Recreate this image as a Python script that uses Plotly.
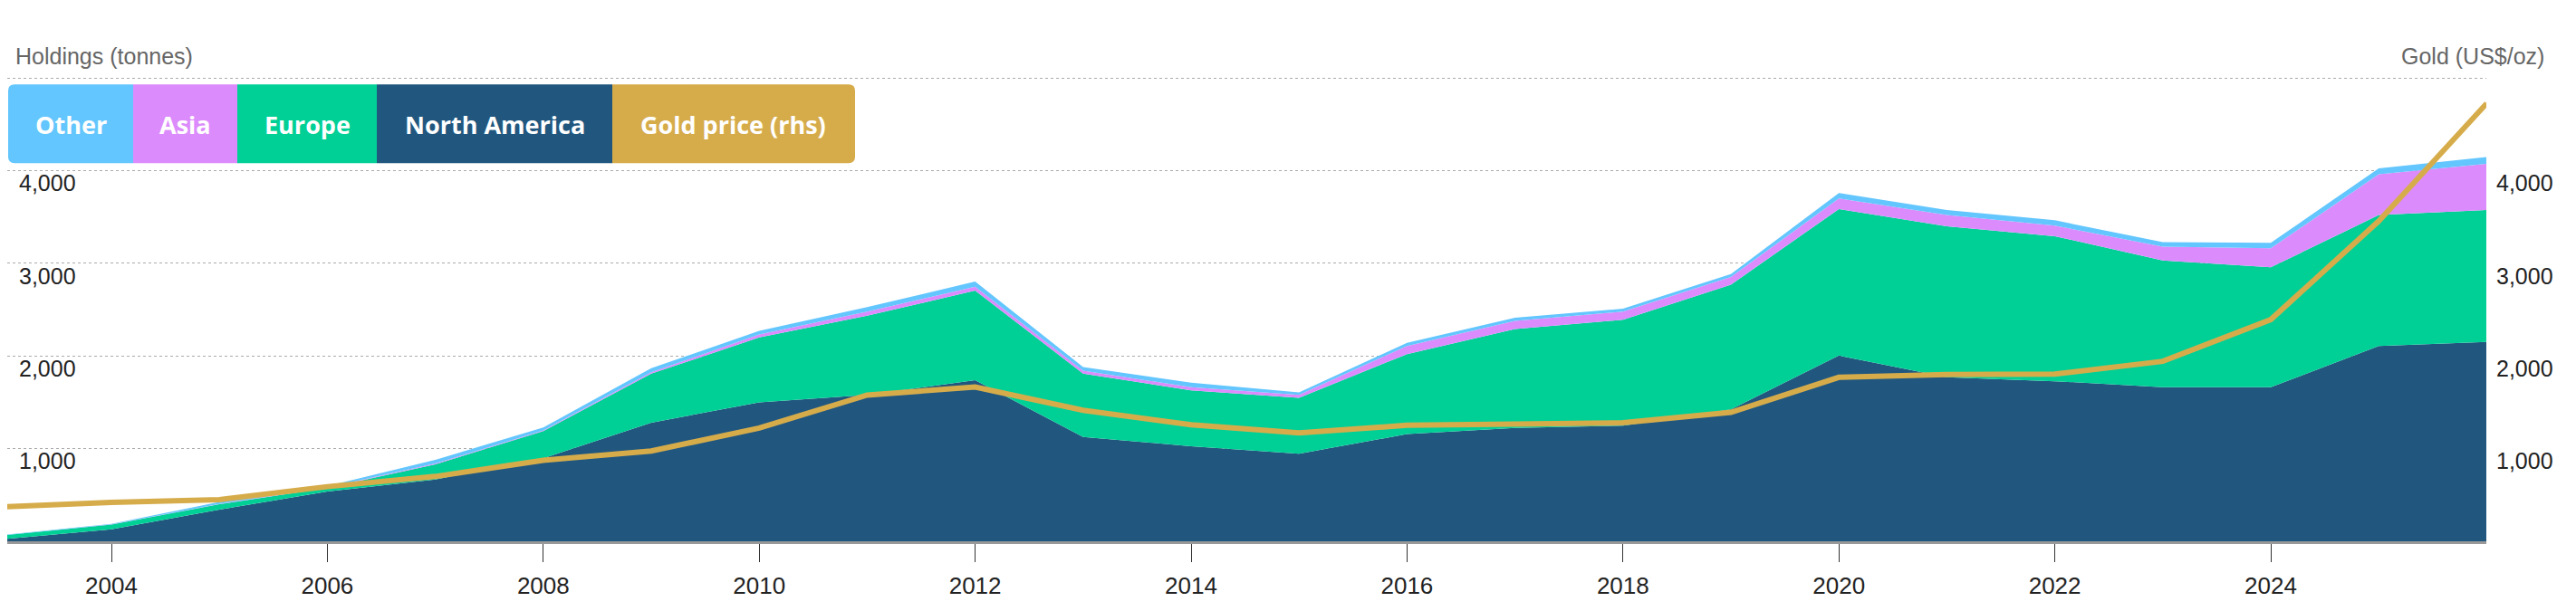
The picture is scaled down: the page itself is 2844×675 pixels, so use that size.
import plotly.graph_objects as go

# ---- data ----
years = [2003, 2004, 2005, 2006, 2007, 2008, 2009, 2010, 2011, 2012, 2013, 2014,
         2015, 2016, 2017, 2018, 2019, 2020, 2021, 2022, 2023, 2024, 2025, 2026]
north_america = [23, 130, 342, 538, 668, 897, 1281, 1500, 1581, 1738, 1125, 1027,
                 945, 1157, 1223, 1249, 1425, 2005, 1770, 1728, 1663, 1663, 2109, 2152]
europe = [42, 50, 58, 39, 163, 293, 528, 700, 854, 968, 684, 603,
          604, 864, 1069, 1141, 1346, 1581, 1630, 1565, 1369, 1294, 1412, 1424]
asia = [0, 2, 4, 5, 8, 8, 15, 33, 43, 42, 33, 33,
        32, 88, 88, 88, 82, 114, 121, 114, 147, 205, 440, 499]
other = [3, 5, 20, 15, 40, 31, 44, 39, 49, 56, 39, 49,
         26, 33, 32, 32, 32, 59, 55, 58, 49, 59, 65, 72]
gold_price = [372, 420, 450, 590, 700, 875, 975, 1222, 1578, 1665, 1415, 1258,
              1170, 1252, 1265, 1280, 1392, 1770, 1800, 1805, 1943, 2393, 3456, 4727]

x_tickvals = [2004, 2006, 2008, 2010, 2012, 2014, 2016, 2018, 2020, 2022, 2024]
x_ticktext = ["2004", "2006", "2008", "2010", "2012", "2014", "2016", "2018", "2020", "2022", "2024"]
y_tickvals = [0, 1000, 2000, 3000, 4000, 5000]
y_ticktext = ["", "1,000", "2,000", "3,000", "4,000", ""]

legend_names = ["Other", "Asia", "Europe", "North America", "Gold price (rhs)"]

C_NA = "#21577F"
C_EU = "#00D096"
C_ASIA = "#DC8BFC"
C_OTHER = "#63C6FE"
C_GOLD = "#D6AC4B"
legend_colors = [C_OTHER, C_ASIA, C_EU, C_NA, C_GOLD]

FONT = "Liberation Sans, Arial, sans-serif"

fig = go.Figure()
for name, vals, col in [("North America", north_america, C_NA),
                        ("Europe", europe, C_EU),
                        ("Asia", asia, C_ASIA),
                        ("Other", other, C_OTHER)]:
    fig.add_trace(go.Scatter(x=years, y=vals, name=name, stackgroup="holdings",
                             mode="lines", line=dict(width=0, color=col),
                             fillcolor=col, showlegend=False, hoverinfo="x+y+name"))

fig.add_trace(go.Scatter(x=years, y=gold_price, name="Gold price (rhs)", yaxis="y2",
                         mode="lines", line=dict(width=6, color=C_GOLD),
                         showlegend=False))

# ---- layout geometry (figure pixels; page has an 8px body margin) ----
OFF = 8
Y_TOP = 5012          # a little head-room so the 5,000 gridline is drawn
W, H = 2844 - OFF, 675 - OFF
L = 0
R = W - (2745 - OFF)
B = H - (598 - OFF)
px_per_unit = (598 - 86) / 5000.0
T = (86 - (Y_TOP - 5000) * px_per_unit) - OFF
pw, ph = W - L - R, H - T - B


def px_x(x):  # page pixel -> paper
    return (x - OFF - L) / pw


def px_y(y):
    return (H - B - (y - OFF)) / ph


# custom legend boxes (page pixel positions)
seg_edges = [9, 147, 262, 416, 676, 944]
top_px, bot_px = 93, 180
shapes = []
annotations = []
rad = 7
for i, (nm, col) in enumerate(zip(legend_names, legend_colors)):
    x0, x1 = seg_edges[i], seg_edges[i + 1]
    if i == 0:
        p = (f"M {px_x(x1)},{px_y(top_px)} L {px_x(x0 + rad)},{px_y(top_px)} "
             f"Q {px_x(x0)},{px_y(top_px)} {px_x(x0)},{px_y(top_px + rad)} "
             f"L {px_x(x0)},{px_y(bot_px - rad)} "
             f"Q {px_x(x0)},{px_y(bot_px)} {px_x(x0 + rad)},{px_y(bot_px)} "
             f"L {px_x(x1)},{px_y(bot_px)} Z")
        shapes.append(dict(type="path", xref="paper", yref="paper", path=p,
                           fillcolor=col, line=dict(width=0), layer="above"))
    elif i == len(legend_names) - 1:
        p = (f"M {px_x(x0)},{px_y(top_px)} L {px_x(x1 - rad)},{px_y(top_px)} "
             f"Q {px_x(x1)},{px_y(top_px)} {px_x(x1)},{px_y(top_px + rad)} "
             f"L {px_x(x1)},{px_y(bot_px - rad)} "
             f"Q {px_x(x1)},{px_y(bot_px)} {px_x(x1 - rad)},{px_y(bot_px)} "
             f"L {px_x(x0)},{px_y(bot_px)} Z")
        shapes.append(dict(type="path", xref="paper", yref="paper", path=p,
                           fillcolor=col, line=dict(width=0), layer="above"))
    else:
        shapes.append(dict(type="rect", xref="paper", yref="paper",
                           x0=px_x(x0), x1=px_x(x1), y0=px_y(bot_px), y1=px_y(top_px),
                           fillcolor=col, line=dict(width=0), layer="above"))
    annotations.append(dict(xref="paper", yref="paper", x=px_x((x0 + x1) / 2),
                            y=px_y((top_px + bot_px) / 2 + 1), text=f"<b>{nm}</b>",
                            showarrow=False, xanchor="center", yanchor="middle",
                            font=dict(family="Open Sans, sans-serif", size=27, color="white")))

annotations.append(dict(xref="paper", yref="paper", x=px_x(15), y=px_y(62),
                        text="Holdings (tonnes)", showarrow=False, xanchor="left",
                        yanchor="middle", font=dict(family=FONT, size=25, color="#666666")))
annotations.append(dict(xref="paper", yref="paper", x=px_x(2811), y=px_y(62),
                        text="Gold (US$/oz)", showarrow=False, xanchor="right",
                        yanchor="middle", font=dict(family=FONT, size=25, color="#666666")))

# x range so that year ticks land on the reference positions (2004 at page x=123, 119.2 px/yr)
x_left = 2004 - (123 - OFF) / 119.2
x_right = 2004 + (2745 - 123) / 119.2

fig.update_layout(
    width=W, height=H,
    margin=dict(l=L, r=R, t=T, b=B, pad=0),
    paper_bgcolor="white", plot_bgcolor="white",
    showlegend=False,
    shapes=shapes, annotations=annotations,
    xaxis=dict(range=[x_left, x_right], tickvals=x_tickvals, ticktext=x_ticktext,
               showgrid=False, zeroline=False, showline=True, linecolor="#999999",
               linewidth=3, ticks="outside", ticklen=20, tickcolor="#333333",
               tickwidth=1, ticklabelstandoff=4,
               tickfont=dict(family=FONT, size=26, color="#222222")),
    yaxis=dict(range=[0, Y_TOP], tickvals=y_tickvals, ticktext=y_ticktext,
               showgrid=True, gridcolor="#aaaaaa", griddash="dot", gridwidth=1,
               zeroline=False, showline=False, ticks="",
               ticklabelposition="inside", ticklabelshift=14, ticklabelstandoff=10,
               tickfont=dict(family=FONT, size=25, color="#222222")),
    yaxis2=dict(range=[0, Y_TOP], tickvals=y_tickvals, ticktext=y_ticktext,
                overlaying="y", side="right", showgrid=False, zeroline=False,
                showline=False, ticks="", ticklabelshift=14, ticklabelstandoff=10,
                tickfont=dict(family=FONT, size=25, color="#222222")),
)

fig.write_html("out.html")
